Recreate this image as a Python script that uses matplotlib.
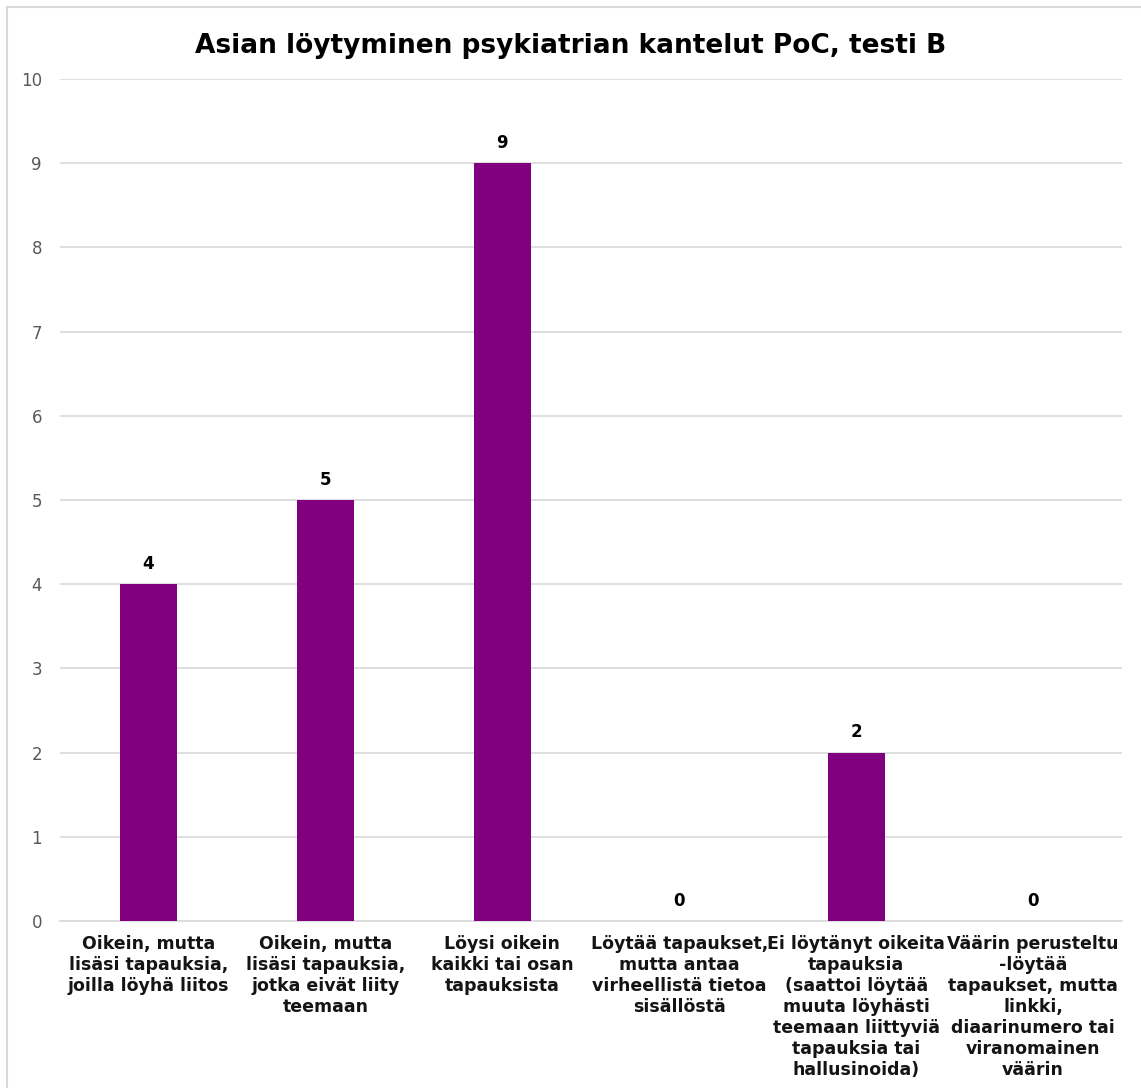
import matplotlib.pyplot as plt
from matplotlib.patches import Rectangle

# Categories (with line breaks as they wrap under each bar) and counts
categories = [
    "Oikein, mutta\nlisäsi tapauksia,\njoilla löyhä liitos",
    "Oikein, mutta\nlisäsi tapauksia,\njotka eivät liity\nteemaan",
    "Löysi oikein\nkaikki tai osan\ntapauksista",
    "Löytää tapaukset,\nmutta antaa\nvirheellistä tietoa\nsisällöstä",
    "Ei löytänyt oikeita\ntapauksia\n(saattoi löytää\nmuuta löyhästi\nteemaan liittyviä\ntapauksia tai\nhallusinoida)",
    "Väärin perusteltu\n-löytää\ntapaukset, mutta\nlinkki,\ndiaarinumero tai\nviranomainen\nväärin",
]
counts = [4, 5, 9, 0, 2, 0]
y_ticks = list(range(0, 11))

title = "Asian löytyminen psykiatrian kantelut PoC, testi B"
bar_color = "#800080"
grid_color = "#d9d9d9"

fig = plt.figure(figsize=(11.41, 10.88), dpi=100)
ax = fig.add_axes([0.0526, 0.1535, 0.9304, 0.7739])

x = list(range(len(categories)))
bars = ax.bar(x, counts, width=0.32, color=bar_color, zorder=3)

for rect, v in zip(bars, counts):
    ax.annotate(str(v), (rect.get_x() + rect.get_width() / 2, v),
                xytext=(0, 8), textcoords="offset points",
                ha="center", va="bottom", fontsize=12, fontweight="bold",
                color="black")

ax.set_xlim(-0.5, len(categories) - 0.5)
ax.set_ylim(0, 10)
ax.set_yticks(y_ticks)
ax.yaxis.grid(True, color=grid_color, linewidth=1.2, zorder=0)
ax.tick_params(axis="y", length=0, pad=13, labelsize=12, labelcolor="#595959")
ax.tick_params(axis="x", length=0, pad=10)
ax.set_xticks(x)
ax.set_xticklabels(categories, fontsize=12.5, fontweight="bold", color="#141414",
                   linespacing=1.22, va="top")

for side in ["top", "right", "left"]:
    ax.spines[side].set_visible(False)
ax.spines["bottom"].set_color(grid_color)
ax.spines["bottom"].set_linewidth(1.2)

fig.suptitle(title, x=0.5, y=0.958, fontsize=19, fontweight="bold", va="center")

# light chart-area border
fig.patches.append(Rectangle((7 / 1141, -0.01), 1.0, 1 - 7 / 1088 + 0.01,
                             transform=fig.transFigure, fill=False,
                             edgecolor="#d9d9d9", linewidth=1.5))

fig.savefig("out.png", dpi=100)
